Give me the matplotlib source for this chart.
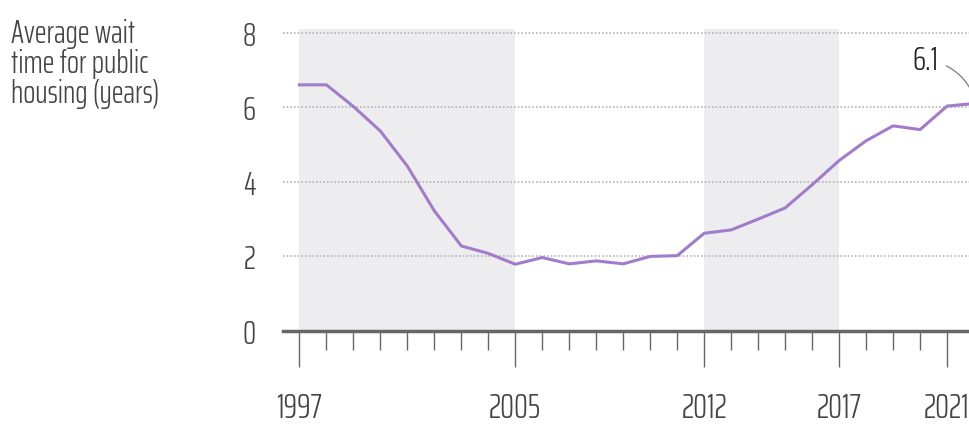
import matplotlib.pyplot as plt
from matplotlib.ticker import FixedLocator, MultipleLocator

years = list(range(1997, 2023))
wait = [6.6, 6.6, 6.02, 5.36, 4.42, 3.22, 2.28, 2.08, 1.79, 1.97, 1.8, 1.88, 1.8,
        2.0, 2.02, 2.62, 2.71, 3.0, 3.3, 3.92, 4.57, 5.1, 5.5, 5.4, 6.03, 6.1]
shaded = [(1997, 2005), (2012, 2017)]
major_years = [1997, 2005, 2012, 2017, 2021]
yticks = [0, 2, 4, 6, 8]

font = ['Saira ExtraCondensed', 'Roboto Condensed', 'DejaVu Sans']
txt = '#444444'
purple = '#a27ccb'

fig = plt.figure(figsize=(9.7, 4.27), dpi=100)
ax = fig.add_axes([0.292, 0.2225, 0.708, 0.7075])

for a, b in shaded:
    ax.axvspan(a, b, color='#ededf0', lw=0, zorder=0)

for v in yticks[1:]:
    ax.axhline(v, color='#b4b4b4', lw=1.2, ls=(0, (1, 1.2)), zorder=1)

ax.plot(years, wait, color=purple, lw=2.2, zorder=3, solid_joinstyle='round')

ax.set_xlim(1996.4, 2021.85)
ax.set_ylim(0, 8.1)

for s in ['top', 'right', 'left']:
    ax.spines[s].set_visible(False)
ax.spines['bottom'].set_color('#666666')
ax.spines['bottom'].set_linewidth(2.5)
ax.spines['bottom'].set_zorder(4)

ax.xaxis.set_major_locator(FixedLocator(major_years))
ax.xaxis.set_minor_locator(MultipleLocator(1))
ax.tick_params(axis='x', which='major', length=26, width=1, color='#666666',
               pad=17, labelsize=25, labelcolor=txt)
ax.tick_params(axis='x', which='minor', length=14, width=1, color='#666666')
ax.set_yticks(yticks)
ax.tick_params(axis='y', length=0, pad=20, labelsize=24, labelcolor=txt)
for lab in ax.get_xticklabels() + ax.get_yticklabels():
    lab.set_family(font)
    lab.set_weight(300)

fig.text(0.011, 0.955, 'Average wait\ntime for public\nhousing (years)',
         ha='left', va='top', fontsize=23, color=txt, family=font,
         weight=300, linespacing=1.0)

ax.annotate(f'{wait[-1]:.1f}', xy=(2022.05, 6.2), xytext=(2020.2, 7.27),
            ha='center', va='center', fontsize=24, color='#222222',
            family=font, weight=300, annotation_clip=False,
            arrowprops=dict(arrowstyle='-', color='#888888', lw=1,
                            shrinkA=4, shrinkB=0,
                            connectionstyle='arc3,rad=-0.3'))

fig.savefig('out.png', dpi=100)
